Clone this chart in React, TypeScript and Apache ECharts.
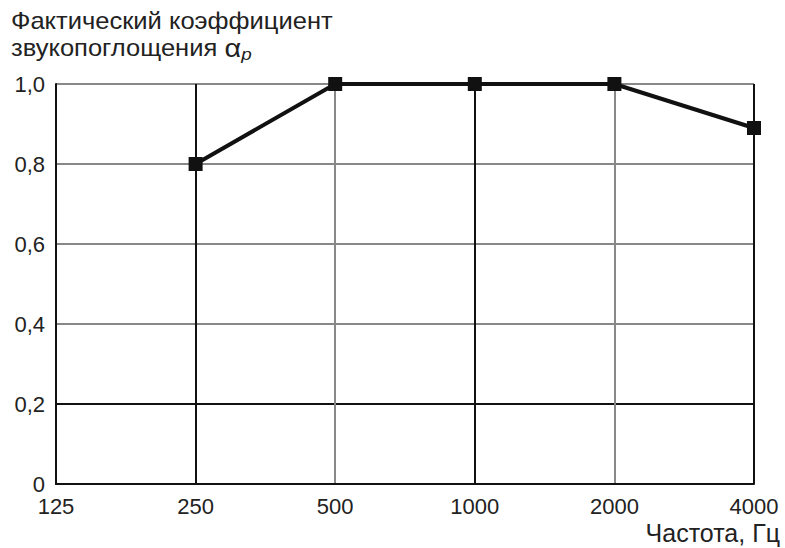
import React, { useEffect, useRef } from "react";
import * as echarts from "echarts";

const categories = ["125", "250", "500", "1000", "2000", "4000"];
const values: (number | null)[] = [null, 0.8, 1.0, 1.0, 1.0, 0.89];
const yTicks = [0, 0.2, 0.4, 0.6, 0.8, 1.0];
const xSplitColors = ["#111", "#111", "#888", "#111", "#888", "#111"];
const ySplitColors = ["#111", "#111", "#888", "#888", "#888", "#888"];

export default function App() {
  const ref = useRef<HTMLDivElement>(null);
  useEffect(() => {
    const chart = echarts.init(ref.current!, null, { renderer: "svg" });
    const font = "Liberation Sans, Arial, sans-serif";
    chart.setOption({
      animation: false,
      grid: { left: 56, right: 31, top: 84, bottom: 64 },
      xAxis: {
        type: "category",
        data: categories,
        boundaryGap: false,
        axisLine: { show: true, lineStyle: { color: "#111", width: 2 } },
        axisTick: { show: false },
        axisLabel: { color: "#222", fontSize: 22, lineHeight: 18, fontFamily: font, margin: 13, interval: 0 },
        splitLine: { show: true, lineStyle: { color: xSplitColors, width: 2 } },
      },
      yAxis: {
        type: "value",
        min: 0,
        max: 1,
        interval: 0.2,
        axisLine: { show: true, lineStyle: { color: "#111", width: 2 } },
        axisTick: { show: false },
        axisLabel: {
          color: "#222",
          fontSize: 22,
          lineHeight: 18,
          fontFamily: font,
          margin: 11,
          formatter: (v: number) => {
            const t = yTicks.find((x) => Math.abs(x - v) < 1e-6);
            if (t === undefined) return "";
            return t === 0 ? "0" : t.toFixed(1).replace(".", ",");
          },
        },
        splitLine: { show: true, lineStyle: { color: ySplitColors, width: 2 } },
      },
      series: [
        {
          type: "line",
          data: values,
          symbol: "rect",
          symbolSize: 14,
          lineStyle: { color: "#111", width: 4 },
          itemStyle: { color: "#111" },
          z: 5,
        },
      ],
      graphic: [
        {
          type: "text",
          x: 11,
          y: 21,
          scaleX: 1.11,
          style: {
            text: "Фактический коэффициент",
            font: `23px ${font}`,
            fill: "#222",
            textVerticalAlign: "middle",
          },
        },
        {
          type: "text",
          x: 11,
          y: 48,
          scaleX: 1.11,
          style: {
            text: "звукопоглощения {g|α}{s|p}",
            font: `23px ${font}`,
            fill: "#222",
            textVerticalAlign: "middle",
            rich: {
              g: { fontSize: 26, fontFamily: font, fill: "#222" },
              s: { fontSize: 17, fontFamily: font, fill: "#222", fontStyle: "italic", padding: [12, 0, 0, 0] },
            },
          },
        },
        {
          type: "text",
          x: 780,
          y: 533,
          style: {
            text: "Частота, Гц",
            font: `25px ${font}`,
            fill: "#222",
            textAlign: "right",
            textVerticalAlign: "middle",
          },
        },
      ],
    });
    return () => chart.dispose();
  }, []);
  return <div ref={ref} style={{ width: 785, height: 548, position: "absolute", left: 0, top: 0 }} />;
}
